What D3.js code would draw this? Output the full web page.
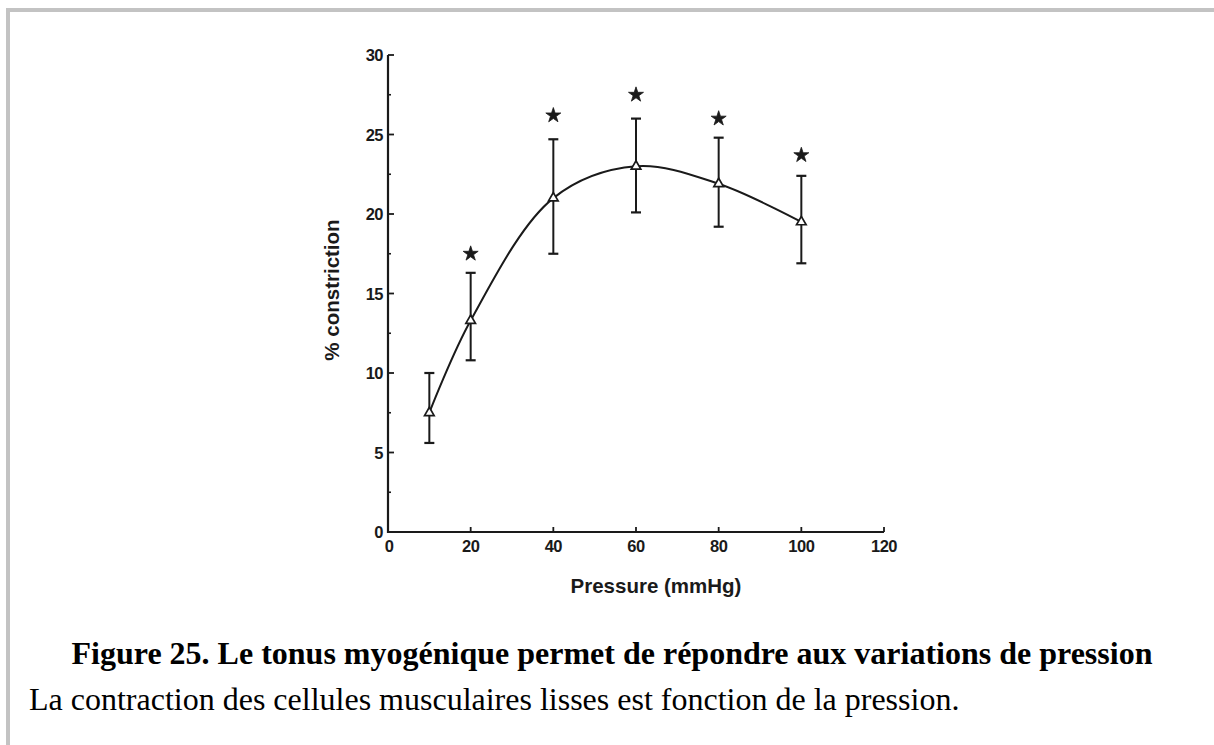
<!DOCTYPE html>
<html>
<head>
<meta charset="utf-8">
<script src="https://cdn.jsdelivr.net/npm/d3@7"></script>
<style>
  body { margin: 0; background: #fff; }
  .tick-label { font-family: "Liberation Sans", Arial, sans-serif; font-weight: bold; font-size: 16.5px; fill: #1a1a1a; }
  .axis-label { font-family: "Liberation Sans", Arial, sans-serif; font-weight: bold; font-size: 20.5px; fill: #1a1a1a; }
  .caption { font-family: "Liberation Serif", "Times New Roman", serif; font-size: 32px; fill: #000; }
</style>
</head>
<body>
<svg id="chart"></svg>
<script>
const pressure = [10, 20, 40, 60, 80, 100];
const constriction = [7.5, 13.3, 21.0, 23.0, 21.9, 19.5];
const errLow = [5.6, 10.8, 17.5, 20.1, 19.2, 16.9];
const errHigh = [10.0, 16.3, 24.7, 26.0, 24.8, 22.4];
const significant = [false, true, true, true, true, true];
const starAt = [0, 17.5, 26.2, 27.5, 26.0, 23.7];

const xTicks = [0, 20, 40, 60, 80, 100, 120];
const yTicks = [0, 5, 10, 15, 20, 25, 30];
const yMinor = [2.5, 7.5, 12.5, 17.5, 22.5, 27.5];

const chartSize = { width: 1214, height: 745 };
const ink = "#1a1a1a";

const svg = d3.select("#chart")
    .attr("width", chartSize.width)
    .attr("height", chartSize.height);

// page frame (top and left edges of the boxed figure)
svg.append("rect").attr("x", 6).attr("y", 8).attr("width", chartSize.width - 6).attr("height", 4).attr("fill", "#c3c3c3");
svg.append("rect").attr("x", 6).attr("y", 8).attr("width", 4).attr("height", chartSize.height - 8).attr("fill", "#c3c3c3");

const x = d3.scaleLinear().domain([0, 120]).range([388, 884]);
const y = d3.scaleLinear().domain([0, 30]).range([532, 55]);

const g = svg.append("g");

// axes
g.append("line")
    .attr("x1", x(0)).attr("x2", x(120))
    .attr("y1", y(0)).attr("y2", y(0))
    .attr("stroke", ink).attr("stroke-width", 2.2);
g.append("line")
    .attr("x1", x(0)).attr("x2", x(0))
    .attr("y1", y(0) + 1).attr("y2", y(30))
    .attr("stroke", ink).attr("stroke-width", 2.2);

g.selectAll(".xtick").data(xTicks.slice(1)).enter().append("line")
    .attr("class", "xtick")
    .attr("x1", d => x(d)).attr("x2", d => x(d))
    .attr("y1", y(0)).attr("y2", y(0) - 5)
    .attr("stroke", ink).attr("stroke-width", 1.8);

g.selectAll(".ytick").data(yTicks.slice(1)).enter().append("line")
    .attr("class", "ytick")
    .attr("x1", x(0)).attr("x2", x(0) + 6)
    .attr("y1", d => y(d)).attr("y2", d => y(d))
    .attr("stroke", ink).attr("stroke-width", 1.8);

g.selectAll(".yminor").data(yMinor).enter().append("line")
    .attr("class", "yminor")
    .attr("x1", x(0)).attr("x2", x(0) + 3)
    .attr("y1", d => y(d)).attr("y2", d => y(d))
    .attr("stroke", ink).attr("stroke-width", 1.6);

g.selectAll(".xlabel").data(xTicks).enter().append("text")
    .attr("class", "tick-label")
    .attr("x", d => x(d) + (d === 0 ? 1 : 0))
    .attr("y", y(0) + 20)
    .attr("text-anchor", "middle")
    .attr("letter-spacing", -0.5)
    .text(d => d);

g.selectAll(".ylabel").data(yTicks).enter().append("text")
    .attr("class", "tick-label")
    .attr("x", x(0) - 5)
    .attr("y", d => y(d) + 6)
    .attr("text-anchor", "end")
    .attr("letter-spacing", -0.5)
    .text(d => d);

g.append("text")
    .attr("class", "axis-label")
    .attr("x", 656)
    .attr("y", 593)
    .attr("text-anchor", "middle")
    .text("Pressure (mmHg)");

g.append("text")
    .attr("class", "axis-label")
    .attr("transform", "rotate(-90)")
    .attr("x", -290)
    .attr("y", 339)
    .attr("text-anchor", "middle")
    .text("% constriction");

// fitted curve through the means
const pts = pressure.map((p, i) => ({ p, v: constriction[i], lo: errLow[i], hi: errHigh[i], sig: significant[i], star: starAt[i] }));

const line = d3.line()
    .x(d => x(d.p))
    .y(d => y(d.v))
    .curve(d3.curveCatmullRom.alpha(0.5));

g.append("path")
    .attr("d", line(pts))
    .attr("fill", "none")
    .attr("stroke", ink)
    .attr("stroke-width", 2);

// error bars
const bars = g.selectAll(".err").data(pts).enter().append("g").attr("class", "err");
bars.append("line")
    .attr("x1", d => x(d.p)).attr("x2", d => x(d.p))
    .attr("y1", d => y(d.lo)).attr("y2", d => y(d.hi))
    .attr("stroke", ink).attr("stroke-width", 2);
bars.append("line")
    .attr("x1", d => x(d.p) - 5).attr("x2", d => x(d.p) + 5)
    .attr("y1", d => y(d.hi)).attr("y2", d => y(d.hi))
    .attr("stroke", ink).attr("stroke-width", 2.2);
bars.append("line")
    .attr("x1", d => x(d.p) - 5).attr("x2", d => x(d.p) + 5)
    .attr("y1", d => y(d.lo)).attr("y2", d => y(d.lo))
    .attr("stroke", ink).attr("stroke-width", 2.2);

// open triangle markers
g.selectAll(".marker").data(pts).enter().append("path")
    .attr("class", "marker")
    .attr("d", d3.symbol().type(d3.symbolTriangle).size(40))
    .attr("transform", d => `translate(${x(d.p)},${y(d.v)})`)
    .attr("fill", "#fff")
    .attr("stroke", ink)
    .attr("stroke-width", 1.7);

// significance stars
g.selectAll(".star").data(pts.filter(d => d.sig)).enter().append("path")
    .attr("class", "star")
    .attr("d", d3.symbol().type(d3.symbolStar).size(70))
    .attr("transform", d => `translate(${x(d.p)},${y(d.star)})`)
    .attr("fill", ink)
    .attr("stroke", ink)
    .attr("stroke-width", 0.8)
    .attr("stroke-linejoin", "round");

// caption
svg.append("text")
    .attr("class", "caption")
    .attr("x", 612)
    .attr("y", 664)
    .attr("text-anchor", "middle")
    .attr("font-weight", "bold")
    .text("Figure 25. Le tonus myogénique permet de répondre aux variations de pression");

svg.append("text")
    .attr("class", "caption")
    .attr("x", 29)
    .attr("y", 710)
    .text("La contraction des cellules musculaires lisses est fonction de la pression.");
</script>
</body>
</html>
